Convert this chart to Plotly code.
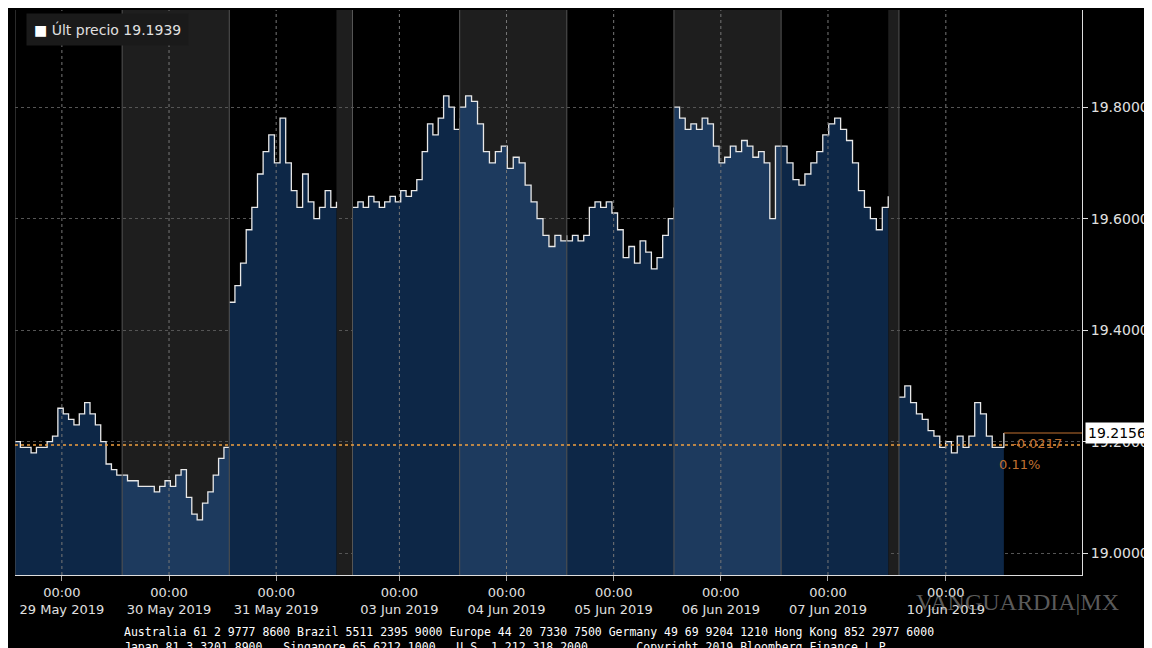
import plotly.graph_objects as go

days = ["29 May 2019", "30 May 2019", "31 May 2019", "03 Jun 2019", "04 Jun 2019",
        "05 Jun 2019", "06 Jun 2019", "07 Jun 2019", "10 Jun 2019"]
prices = [
    [19.20, 19.19, 19.19, 19.18, 19.19, 19.19, 19.20, 19.21, 19.26, 19.25, 19.24, 19.23, 19.25, 19.27, 19.25, 19.23, 19.20, 19.16, 19.15, 19.14, 19.14],
    [19.14, 19.13, 19.13, 19.12, 19.12, 19.12, 19.11, 19.12, 19.13, 19.12, 19.14, 19.15, 19.10, 19.07, 19.06, 19.09, 19.11, 19.14, 19.17, 19.19, 19.19],
    [19.45, 19.48, 19.52, 19.58, 19.62, 19.68, 19.72, 19.75, 19.70, 19.78, 19.70, 19.65, 19.62, 19.68, 19.63, 19.60, 19.62, 19.65, 19.62, 19.63],
    [19.62, 19.63, 19.62, 19.64, 19.63, 19.62, 19.63, 19.64, 19.63, 19.65, 19.64, 19.65, 19.67, 19.72, 19.77, 19.75, 19.78, 19.82, 19.80, 19.76, 19.78],
    [19.80, 19.82, 19.81, 19.77, 19.72, 19.70, 19.72, 19.73, 19.69, 19.71, 19.70, 19.66, 19.63, 19.60, 19.57, 19.55, 19.57, 19.56, 19.57],
    [19.56, 19.57, 19.56, 19.57, 19.62, 19.63, 19.62, 19.63, 19.61, 19.58, 19.53, 19.55, 19.52, 19.56, 19.54, 19.51, 19.53, 19.57, 19.60, 19.62],
    [19.80, 19.78, 19.76, 19.77, 19.76, 19.78, 19.77, 19.73, 19.70, 19.71, 19.73, 19.72, 19.74, 19.73, 19.71, 19.72, 19.70, 19.60, 19.73, 19.73],
    [19.73, 19.70, 19.67, 19.66, 19.68, 19.70, 19.72, 19.75, 19.77, 19.78, 19.76, 19.74, 19.70, 19.65, 19.62, 19.60, 19.58, 19.62, 19.64],
    [19.28, 19.30, 19.27, 19.25, 19.24, 19.22, 19.21, 19.19, 19.20, 19.18, 19.21, 19.19, 19.21, 19.27, 19.25, 19.21, 19.19, 19.19, 19.2156],
]
starts = [0, 24, 48, 75.6, 99.6, 123.6, 147.6, 171.6, 198]
durations = [24, 24, 24, 24, 24, 24, 24, 24, 23.5]
tick_offset = 10.5
last_price = 19.2156
ref_price = 19.1939
yticks = [19.0, 19.2, 19.4, 19.6, 19.8]

fig = go.Figure()
dark_bands = [(24, 48), (72, 75.6), (99.6, 123.6), (147.6, 171.6), (195.6, 198)]
shapes = []
for a, b in dark_bands:
    shapes.append(dict(type="rect", xref="x", yref="paper", x0=a, x1=b, y0=0, y1=1,
                       fillcolor="#1e1e1e", line_width=0, layer="below"))

for i, (d, p) in enumerate(zip(days, prices)):
    n = len(p)
    xs = [starts[i] + durations[i] * k / (n - 1) for k in range(n)]
    light = i in (1, 4, 6)
    fig.add_trace(go.Scatter(x=xs, y=p, mode="lines", line=dict(color="#e8e8e8", width=1.3, shape="hv"),
                             fill="tozeroy", fillcolor="#1d3a5e" if light else "#0d2747",
                             showlegend=False, hoverinfo="skip"))
    shapes.append(dict(type="line", xref="x", yref="paper", x0=starts[i], x1=starts[i], y0=0, y1=1,
                       line=dict(color="#555555", width=1)))
    shapes.append(dict(type="line", xref="x", yref="paper", x0=starts[i] + tick_offset, x1=starts[i] + tick_offset,
                       y0=0, y1=1, line=dict(color="#777777", width=1, dash="dot")))

shapes.append(dict(type="line", xref="x", yref="y", x0=0, x1=239, y0=ref_price, y1=ref_price,
                   line=dict(color="#f0a040", width=1.5, dash="dot")))
shapes.append(dict(type="line", xref="x", yref="y", x0=221.5, x1=239, y0=last_price, y1=last_price,
                   line=dict(color="#c07030", width=1)))

fig.update_layout(
    width=1152, height=648, paper_bgcolor="#000000", plot_bgcolor="#000000",
    margin=dict(l=7, r=78, t=2, b=81, autoexpand=False), shapes=shapes,
    font=dict(family="DejaVu Sans", color="#e0e0e0"),
    xaxis=dict(range=[0, 239], tickvals=[s + tick_offset for s in starts], automargin=False,
               ticktext=["00:00<br>" + d for d in days], showgrid=False, zeroline=False,
               tickfont=dict(size=13, color="#e0e0e0"), ticks="outside", tickcolor="#aaaaaa",
               showline=True, linecolor="#dddddd"),
    yaxis=dict(range=[18.961, 19.974], side="right", tickvals=yticks, automargin=False,
               ticktext=["%.4f" % v for v in yticks], gridcolor="#555555", griddash="dot",
               zeroline=False, tickfont=dict(size=14, color="#e0e0e0"), ticks="outside",
               tickcolor="#dddddd", showline=True, linecolor="#dddddd"),
    annotations=[
        dict(xref="paper", yref="paper", x=0.01, y=0.965, xanchor="left", yanchor="middle",
             text="<span style='color:#ffffff'>■</span> Últ precio 19.1939", showarrow=False,
             font=dict(size=14, color="#e0e0e0"), bgcolor="#1a1a1a", borderpad=7),
        dict(xref="paper", yref="y", x=1.003, y=last_price, xanchor="left", text="19.2156",
             showarrow=False, font=dict(size=14, color="#000000"), bgcolor="#ffffff", borderpad=2),
        dict(xref="x", yref="y", x=229, y=ref_price + 0.002, text="-0.0217", showarrow=False,
             font=dict(size=13, color="#c07030")),
        dict(xref="x", yref="y", x=225, y=19.16, text="0.11%", showarrow=False,
             font=dict(size=13, color="#c07030")),
        dict(xref="paper", yref="paper", x=0.1, y=-0.085, xanchor="left", yanchor="top", showarrow=False,
             text="Australia 61 2 9777 8600 Brazil 5511 2395 9000 Europe 44 20 7330 7500 Germany 49 69 9204 1210 Hong Kong 852 2977 6000<br>Japan 81 3 3201 8900   Singapore 65 6212 1000   U.S. 1 212 318 2000       Copyright 2019 Bloomberg Finance L.P.",
             font=dict(family="DejaVu Sans Mono", size=11.5, color="#ffffff"), align="left"),
        dict(xref="paper", yref="paper", x=0.94, y=-0.047, xanchor="center", yanchor="middle", showarrow=False,
             text="VANGUARDIA|MX", font=dict(family="Liberation Serif", size=24, color="rgba(170,170,170,0.55)")),
    ],
)
fig.write_html("out.html")
